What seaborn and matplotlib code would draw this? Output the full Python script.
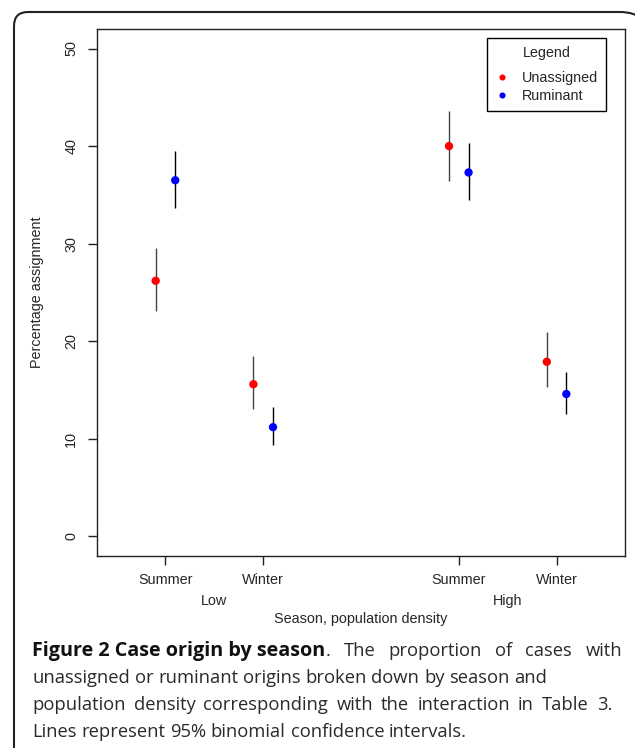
import pandas as pd
import matplotlib.pyplot as plt
import seaborn as sns
from matplotlib.lines import Line2D
from matplotlib.patches import PathPatch
from matplotlib.path import Path

# values (percent, with 95% binomial CI)
density = ["Low", "Low", "Low", "Low", "High", "High", "High", "High"]
season = ["Summer", "Summer", "Winter", "Winter", "Summer", "Summer", "Winter", "Winter"]
origin = ["Unassigned", "Ruminant", "Unassigned", "Ruminant",
          "Unassigned", "Ruminant", "Unassigned", "Ruminant"]
pct = [26.2, 36.5, 15.6, 11.2, 40.0, 37.3, 17.9, 14.6]
lower = [23.1, 33.7, 13.1, 9.4, 36.4, 34.5, 15.3, 12.6]
upper = [29.6, 39.5, 18.5, 13.3, 43.6, 40.3, 21.0, 16.9]

density_order = ["Low", "High"]
season_order = ["Summer", "Winter"]
origin_colors = {"Unassigned": "red", "Ruminant": "blue"}
caption_bold = "Figure 2 Case origin by season"
caption_lines = [
    ". The proportion of cases with",
    "unassigned or ruminant origins broken down by season and",
    "population density corresponding with the interaction in Table 3.",
    "Lines represent 95% binomial confidence intervals.",
]

df = pd.DataFrame({"density": density, "season": season, "origin": origin,
                   "pct": pct, "lower": lower, "upper": upper})

# x position: one slot per season, gap between density groups, small dodge by origin
df["group"] = [1 + 3 * density_order.index(d) + season_order.index(s)
               for d, s in zip(df["density"], df["season"])]
df["xpos"] = df["group"] + df["origin"].map({"Unassigned": -0.1, "Ruminant": 0.1})

sns.set_style("ticks")
plt.rcParams["font.family"] = ["Liberation Sans", "DejaVu Sans"]

W, H = 635, 748
fig = plt.figure(figsize=(W / 100, H / 100), dpi=100)
ax = fig.add_axes([97 / W, 1 - 556 / H, (625 - 97) / W, (556 - 29) / H])

# CI lines
for o, sub in df.groupby("origin"):
    ax.vlines(sub["xpos"], sub["lower"], sub["upper"],
              colors="#444444" if o == "Unassigned" else "black", lw=1.0, zorder=2)

sns.scatterplot(data=df, x="xpos", y="pct", hue="origin", palette=origin_colors,
                s=36, edgecolor="none", legend=False, zorder=3, ax=ax)

ax.set_xlim(0.3, 5.7)
ax.set_ylim(-2, 52)
ticks = sorted(df["group"].unique())
ax.set_xticks(ticks)
ax.set_xticklabels([season_order[(t - 1) % 3] for t in ticks])
ax.set_yticks(range(0, 51, 10))
ax.tick_params(axis="both", direction="out", length=6.5, width=1, labelsize=10.4,
               color="#222222")
ax.tick_params(axis="x", pad=6)
ax.tick_params(axis="y", pad=7, labelrotation=90)
for lab in ax.get_yticklabels():
    lab.set_va("center")
for sp in ax.spines.values():
    sp.set_visible(True)
    sp.set_color("#222222")
    sp.set_linewidth(1.0)
ax.set_xlabel("")
ax.set_ylabel("")

# density group labels under the season ticks
for i, d in enumerate(density_order):
    ax.text(1.5 + 3 * i, -0.0854, d, transform=ax.get_xaxis_transform(),
            ha="center", va="center", fontsize=10.4)
ax.text(0.5, -0.1195, "Season, population density", transform=ax.transAxes,
        ha="center", va="center", fontsize=10.4)
ax.text(-0.1136, 0.5, "Percentage assignment", transform=ax.transAxes,
        ha="center", va="center", rotation=90, fontsize=10.4)

handles = [Line2D([], [], marker="o", ls="none", color=origin_colors[k],
                  markersize=4.4, markeredgewidth=0) for k in origin_colors]
leg = ax.legend(handles, list(origin_colors), title="Legend", loc="upper right",
                bbox_to_anchor=(0.964, 0.983), fontsize=10.4, title_fontsize=10.4,
                frameon=True, fancybox=False, framealpha=1, edgecolor="black",
                borderpad=0.55, handlelength=1.0, handletextpad=0.86,
                labelspacing=0.3, borderaxespad=0)
leg.get_frame().set_linewidth(1.0)
leg._legend_box.sep = 0.55 * 10.4 * 100 / 72  # a bit more room under the title

# caption, laid out word by word so lines 1 and 3 can be justified
cap_font = ["Open Sans", "DejaVu Sans"]
x0 = 32
fig.canvas.draw()
r = fig.canvas.get_renderer()
probe = fig.text(0, 0.5, caption_lines[3], family=cap_font, fontsize=12)
size = 12 * 434 / probe.get_window_extent(r).width
probe.set_fontsize(size)
probe.set_text("a a")
w_pair = probe.get_window_extent(r).width
probe.set_text("aa")
space = w_pair - probe.get_window_extent(r).width
# the bold run is wider in the original typeface
probe.set_text(caption_bold)
probe.set_fontweight("bold")
bold_size = min(size * 293 / probe.get_window_extent(r).width, size * 1.08)
probe.remove()


def place_line(words, baseline, right=None):
    runs = [[fig.text(0, 1 - baseline / H, s, family=cap_font,
                      fontsize=bold_size if wt == "bold" else size,
                      fontweight=wt, va="baseline",
                      color="#111111" if wt == "bold" else "#2a2a2a")
             for s, wt in word] for word in words]
    widths = [[t.get_window_extent(r).width for t in word] for word in runs]
    total = sum(sum(w) for w in widths)
    gap = space if right is None else (right - x0 - total) / (len(words) - 1)
    x = x0
    for word, ws in zip(runs, widths):
        for t, w in zip(word, ws):
            t.set_x(x / W)
            x += w
        x += gap


# bold lead-in keeps its own spacing; only the plain words after it are spread
rest = caption_lines[0].split()
first = [[(caption_bold, "bold"), (rest[0], "normal")]]
first += [[(w, "normal")] for w in rest[1:]]
place_line(first, 656, right=622)
place_line([[(w, "normal")] for w in caption_lines[1].split()], 683)
place_line([[(w, "normal")] for w in caption_lines[2].split()], 710, right=612)
place_line([[(w, "normal")] for w in caption_lines[3].split()], 737)

# rounded frame around figure + caption; it runs off the right and bottom edges
pts = [(14, 760), (14, 26), (14, 12), (28, 12), (620, 12), (650, 12), (650, 42)]
codes = [Path.MOVETO, Path.LINETO, Path.CURVE3, Path.CURVE3,
         Path.LINETO, Path.CURVE3, Path.CURVE3]
frame_path = Path([(px / 100, (H - py) / 100) for px, py in pts], codes)
fig.patches.append(PathPatch(frame_path, transform=fig.dpi_scale_trans, fill=False,
                             edgecolor="#222222", lw=1.5))

fig.savefig("out.png", dpi=100)
